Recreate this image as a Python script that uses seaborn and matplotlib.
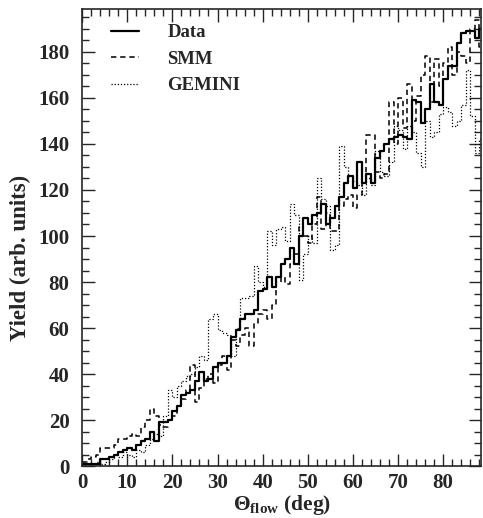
import matplotlib
matplotlib.use("Agg")
import matplotlib.pyplot as plt
from matplotlib.ticker import MultipleLocator
import numpy as np
import pandas as pd
import seaborn as sns

# yields per 1-degree bin of theta_flow, bins 0..88
data_yield = [1, 1, 1, 1, 3, 3, 4, 5, 6, 7, 8, 7, 9, 11, 12, 15, 11, 19, 19, 20,
              24, 26, 31, 32, 33, 37, 41, 37, 38, 43, 45, 45, 48, 56, 59, 64, 66, 66, 68, 76,
              77, 82, 78, 82, 88, 90, 95, 88, 100, 108, 105, 109, 110, 114, 105, 108, 113, 117, 123, 126,
              121, 132, 123, 127, 123, 134, 137, 140, 142, 143, 144, 143, 142, 159, 158, 149, 155, 166, 158, 157,
              168, 174, 174, 184, 188, 189, 189, 186, 190]
smm_yield = [2, 3, 4, 5, 8, 8, 8, 9, 12, 12, 13, 14, 13, 17, 20, 25, 22, 18, 17, 20,
             22, 26, 29, 33, 44, 28, 34, 38, 40, 36, 44, 48, 42, 55, 52, 57, 60, 52, 62, 66,
             68, 64, 70, 80, 82, 79, 88, 92, 104, 100, 97, 105, 117, 103, 110, 102, 102, 113, 116, 118,
             112, 118, 123, 144, 144, 128, 125, 127, 158, 140, 160, 147, 166, 150, 161, 170, 178, 158, 177, 165,
             175, 182, 170, 180, 178, 175, 190, 194, 182]
gemini_yield = [0, 0, 1, 2, 1, 2, 3, 5, 4, 6, 5, 4, 7, 6, 9, 12, 14, 13, 22, 33,
                30, 35, 37, 39, 40, 43, 48, 46, 64, 66, 59, 58, 57, 48, 60, 73, 73, 74, 87, 80,
                78, 102, 96, 103, 104, 98, 114, 109, 81, 92, 100, 97, 125, 116, 113, 94, 96, 139, 130, 126,
                124, 122, 118, 125, 122, 137, 128, 126, 132, 148, 146, 138, 148, 145, 136, 130, 150, 143, 145, 153,
                156, 154, 148, 150, 157, 172, 152, 136, 142]


def steps(vals):
    # bin edges for a post-step histogram outline
    x = np.arange(len(vals) + 1)
    y = list(vals) + [vals[-1]]
    return pd.DataFrame({"theta": x, "yield": y})


sns.set_style("ticks")
plt.rcParams["font.family"] = ["Liberation Serif", "DejaVu Serif"]
plt.rcParams["font.weight"] = "bold"
plt.rcParams["mathtext.fontset"] = "custom"
plt.rcParams["mathtext.rm"] = "Liberation Serif:bold"
plt.rcParams["mathtext.bf"] = "Liberation Serif:bold"
plt.rcParams["mathtext.it"] = "Liberation Serif:bold"

fig = plt.figure(figsize=(4.83, 5.18), dpi=100)
ax = fig.add_axes([0.170, 0.100, 0.826, 0.883])

sns.lineplot(data=steps(data_yield), x="theta", y="yield", ax=ax,
             drawstyle="steps-post", color="black", linewidth=1.6, label="Data")
sns.lineplot(data=steps(smm_yield), x="theta", y="yield", ax=ax,
             drawstyle="steps-post", color="black", linewidth=1.1,
             linestyle=(0, (3.5, 2.5)), label="SMM")
sns.lineplot(data=steps(gemini_yield), x="theta", y="yield", ax=ax,
             drawstyle="steps-post", color="black", linewidth=0.9,
             linestyle=(0, (1, 1.5)), label="GEMINI")

ax.set_xlim(0, 88.4)
ax.set_ylim(0, 198.7)
ax.xaxis.set_major_locator(MultipleLocator(10))
ax.xaxis.set_minor_locator(MultipleLocator(2))
ax.yaxis.set_major_locator(MultipleLocator(20))
ax.yaxis.set_minor_locator(MultipleLocator(5))
ax.tick_params(which="both", direction="in", top=True, right=True,
               labelsize=15, width=1)
ax.tick_params(axis="y", pad=9)
ax.tick_params(axis="x", pad=5)
ax.tick_params(which="major", length=9)
ax.tick_params(which="minor", length=5)
for s in ax.spines.values():
    s.set_linewidth(1.2)

ax.set_xlabel(r"$\Theta_{\mathbf{flow}}$ (deg)", fontsize=15.5, fontweight="bold", labelpad=0)
ax.set_ylabel("Yield (arb. units)", fontsize=16.5, fontweight="bold")
ax.yaxis.set_label_coords(-0.128, 0.455)

ax.legend(loc="upper left", bbox_to_anchor=(0.04, 0.995), frameon=False,
          fontsize=13.5, handlelength=1.5, handletextpad=1.5,
          labelspacing=0.5, borderpad=0.2)

plt.savefig("out.png", dpi=100)
